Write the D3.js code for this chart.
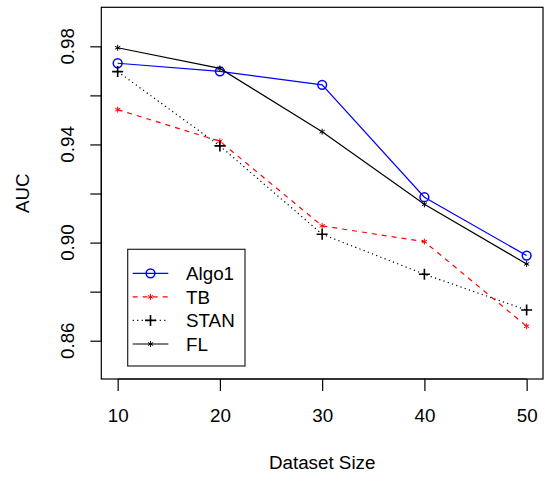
<!DOCTYPE html>
<html><head><meta charset="utf-8">
<script src="https://cdn.jsdelivr.net/npm/d3@7"></script>
<style>body{margin:0;background:#fff}svg{display:block}text{font-family:"Liberation Sans",Arial,sans-serif;fill:#000}</style>
</head><body>
<svg id="c" width="544" height="477"></svg>
<script>
const sizes = [10, 20, 30, 40, 50];
const algo1 = [0.9731, 0.9698, 0.9643, 0.9185, 0.8947];
const tb    = [0.9542, 0.9413, 0.9068, 0.9004, 0.8659];
const stan  = [0.9697, 0.9394, 0.9034, 0.8871, 0.8725];
const fl    = [0.9794, 0.9710, 0.9452, 0.9156, 0.8913];
const xTicks = [10, 20, 30, 40, 50];
const yTicks = [0.86, 0.88, 0.90, 0.92, 0.94, 0.96, 0.98];
const yLabelTicks = [0.86, 0.90, 0.94, 0.98];

const series = [
  {name: "Algo1", values: algo1, color: "#0000ff", dash: null, sym: "circle"},
  {name: "TB", values: tb, color: "#ff0000", dash: "5,5", sym: "star"},
  {name: "STAN", values: stan, color: "#000000", dash: "1.2,3.3", sym: "plus"},
  {name: "FL", values: fl, color: "#000000", dash: null, sym: "star"}
];

const L = 101.3, R = 543, T = 7.3, B = 379;
const FS = 18.8;
const svg = d3.select("#c");
const x = d3.scaleLinear().domain([8.4, 51.6]).range([L, R]);
const y = d3.scaleLinear().domain([0.8444, 0.9959]).range([B, T]);

// box
svg.append("rect").attr("x", L).attr("y", T).attr("width", R - L).attr("height", B - T)
  .attr("fill", "none").attr("stroke", "#000").attr("stroke-width", 1.2);

// axes
const xa = svg.append("g").attr("transform", `translate(0,${B})`)
  .call(d3.axisBottom(x).tickValues(xTicks).tickSize(12).tickPadding(18).tickFormat(d3.format("d")));
xa.select(".domain").attr("d", `M${x(10)},0H${x(50)}`).attr("stroke-width", 1.2);
xa.selectAll("line").attr("stroke-width", 1.2);
xa.selectAll("text").attr("font-size", FS).attr("font-family", "Liberation Sans, Arial, sans-serif");

const ya = svg.append("g").attr("transform", `translate(${L},0)`)
  .call(d3.axisLeft(y).tickValues(yTicks).tickSize(11).tickFormat(""));
ya.select(".domain").attr("d", `M0,${y(0.86)}V${y(0.98)}`).attr("stroke-width", 1.2);
ya.selectAll("line").attr("stroke-width", 1.2);
ya.selectAll("text").remove();
svg.append("g").selectAll("text").data(yLabelTicks).join("text")
  .attr("transform", d => `translate(73.5,${y(d)}) rotate(-90)`)
  .attr("text-anchor", "middle").attr("font-size", FS)
  .text(d => d3.format(".2f")(d));

// titles
svg.append("text").attr("x", (L + R) / 2).attr("y", 469).attr("text-anchor", "middle")
  .attr("font-size", FS).text("Dataset Size");
svg.append("text").attr("transform", `translate(28.5,${(T + B) / 2}) rotate(-90)`)
  .attr("text-anchor", "middle").attr("font-size", FS).text("AUC");

function drawSym(g, sym, cx, cy, color) {
  if (sym === "circle") {
    g.append("circle").attr("cx", cx).attr("cy", cy).attr("r", 4.4)
      .attr("fill", "none").attr("stroke", color).attr("stroke-width", 1.5);
  } else if (sym === "plus") {
    const s = 5.5;
    g.append("path").attr("d", `M${cx - s},${cy}H${cx + s}M${cx},${cy - s}V${cy + s}`)
      .attr("stroke", color).attr("stroke-width", 1.6).attr("fill", "none");
  } else {
    const s = 3;
    let d = "";
    for (let k = 0; k < 3; k++) {
      const a = Math.PI / 2 + k * Math.PI / 3;
      d += `M${cx - s * Math.cos(a)},${cy - s * Math.sin(a)}L${cx + s * Math.cos(a)},${cy + s * Math.sin(a)}`;
    }
    g.append("path").attr("d", d).attr("stroke", color).attr("stroke-width", 1).attr("fill", "none");
  }
}

const line = d3.line().x((d, i) => x(sizes[i])).y(d => y(d));
series.forEach(s => {
  const g = svg.append("g");
  g.append("path").attr("d", line(s.values)).attr("fill", "none")
    .attr("stroke", s.color).attr("stroke-width", 1.2)
    .attr("stroke-dasharray", s.dash);
  s.values.forEach((v, i) => drawSym(g, s.sym, x(sizes[i]), y(v), s.color));
});

// legend
const lg = svg.append("g");
lg.append("rect").attr("x", 127.7).attr("y", 249.3).attr("width", 117.3).attr("height", 116.7)
  .attr("fill", "#fff").attr("stroke", "#222").attr("stroke-width", 1.2);
const rowY = [273.3, 296.9, 320.4, 344];
series.forEach((s, i) => {
  const yy = rowY[i];
  lg.append("path").attr("d", `M132.7,${yy}H168.3`).attr("stroke", s.color)
    .attr("stroke-width", 1.2).attr("stroke-dasharray", s.dash).attr("fill", "none");
  drawSym(lg, s.sym, 150.5, yy, s.color);
  lg.append("text").attr("x", 186).attr("y", yy).attr("dy", "0.36em")
    .attr("font-size", FS).text(s.name);
});
</script>
</body></html>
